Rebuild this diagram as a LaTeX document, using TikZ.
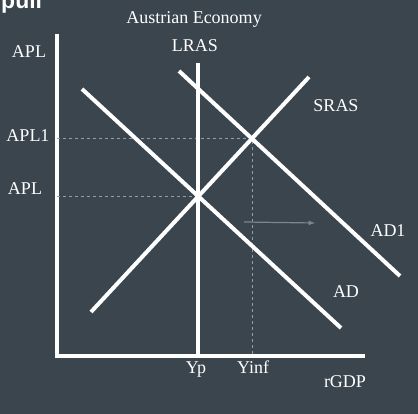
\documentclass[tikz,border=0pt]{standalone}
\usepackage{fontspec}
\setmainfont{Liberation Serif}
\newfontfamily\pullfont{Liberation Sans}
\usetikzlibrary{arrows}
\definecolor{slate}{RGB}{58,69,78}
\definecolor{guide}{RGB}{150,156,162}

\begin{document}
\begin{tikzpicture}[x=1pt, y=-1pt,
    curve/.style={white, line width=4pt},
    guideline/.style={guide, line width=0.9pt, dash pattern=on 3pt off 3pt},
    lbl/.style={white, anchor=base, inner sep=0pt, font=\fontsize{18}{18}\selectfont}]
\fill[slate] (0,0) rectangle (418,414);
\useasboundingbox (0,0) rectangle (418,414);
\begin{scope}
\clip (0,0) rectangle (418,414);
\node[lbl, anchor=base west, font=\pullfont\bfseries\fontsize{23}{23}\selectfont] (pull) at (1,9) {pull};
\end{scope}
% axes
\coordinate (origin) at (57,356);
\coordinate (ytop) at (57,34);
\coordinate (xend) at (365,356);
\draw[white, line width=3.5pt] (ytop) -- (origin |- 0,357.5);
\draw[white, line width=3.5pt] (origin) -- (xend);
% equilibria
\coordinate (E0) at (198,196);
\coordinate (E1) at (252,138);
\draw[guideline] (origin |- E1) -- (E1) -- (E1 |- origin);
\draw[guideline] (origin |- E0) -- (E0);
% curves
\coordinate (lrasT) at (198,63);
\draw[curve] (lrasT) -- (lrasT |- origin);
\coordinate (srasB) at (91,312);
\coordinate (srasT) at (309,77);
\draw[curve] (srasB) -- (srasT);
\coordinate (adT) at (82,89);
\coordinate (adB) at (341,328);
\draw[curve] (adT) -- (adB);
\coordinate (adoneT) at (179,71);
\coordinate (adoneB) at (400,276);
\draw[curve] (adoneT) -- (adoneB);
% shift
\coordinate (shiftA) at (244,222);
\coordinate (shiftB) at (315,223);
\draw[-latex, guide!85!black, line width=1.2pt] (shiftA) -- (shiftB);
% labels
\node[lbl] (title) at (194,24) {Austrian Economy};
\node[lbl] (lras) at (195,52) {LRAS};
\node[lbl] (yname) at (29,58) {APL};
\node[lbl] (aplone) at (28,142) {APL1};
\node[lbl] (apl) at (25,195) {APL};
\node[lbl] (sras) at (336,112) {SRAS};
\node[lbl] (adone) at (388,237) {AD1};
\node[lbl] (ad) at (346,298) {AD};
\node[lbl] (yp) at (196,373) {Yp};
\node[lbl] (yinf) at (253,373) {Yinf};
\node[lbl] (rgdp) at (345,387) {rGDP};
\end{tikzpicture}
\end{document}
